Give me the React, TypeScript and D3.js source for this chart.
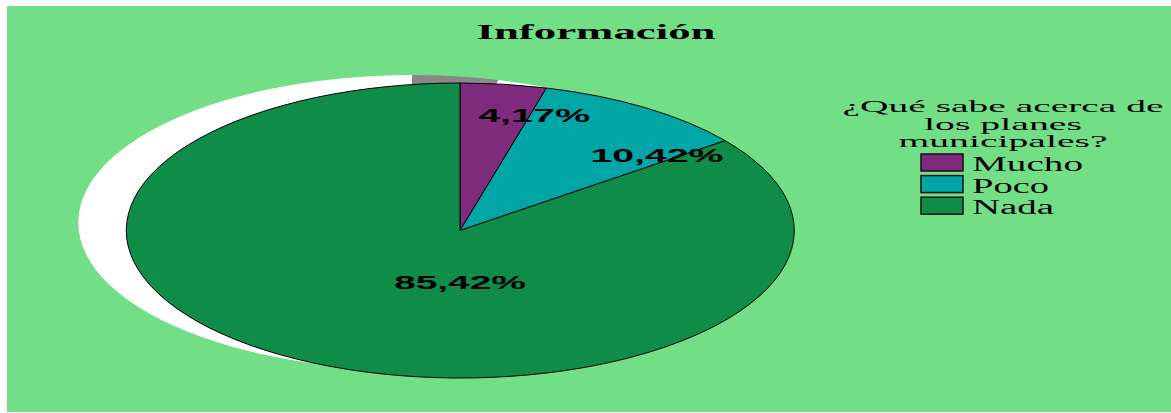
import { useEffect, useRef } from "react"
import * as d3 from "d3"

// datos del gráfico
const categories = ["Mucho", "Poco", "Nada"]
const values = [4.17, 10.42, 85.42]
const valueLabels = ["4,17%", "10,42%", "85,42%"]
const chartTitle = "Información"
const legendTitle = ["¿Qué sabe acerca de", "los planes", "municipales?"]

const colors = ["#7e2a7d", "#00a6a6", "#0e8c48"]
const shadowColors = ["#888888", "#ffffff", "#ffffff"]

// posición relativa de las etiquetas (fracción del radio en x / y)
const labelPlace = [
  { fx: 1.7, fy: 0.742 },
  { fx: 1.061, fy: 0.559 },
  { fx: 0.0, fy: 0.442 },
]
const labelWidths = [112, 133, 132]
const legendTitleWidths = [321, 158, 209]
const legendTextWidths = [111, 77, 82]

export default function App() {
  const svgRef = useRef<SVGSVGElement>(null)

  useEffect(() => {
    if (!svgRef.current) return
    const width = 1171
    const height = 413

    const svg = d3.select(svgRef.current)
    svg.selectAll("*").remove()
    svg.attr("width", width).attr("height", height)

    // fondo
    svg.append("rect")
      .attr("x", 7)
      .attr("y", 6)
      .attr("width", width - 7)
      .attr("height", 406)
      .attr("fill", "#72df87")

    // título
    svg.append("text")
      .text(chartTitle)
      .attr("x", 596)
      .attr("y", 39)
      .attr("text-anchor", "middle")
      .attr("textLength", 239)
      .attr("lengthAdjust", "spacingAndGlyphs")
      .style("font-family", "'Liberation Serif', 'Times New Roman', serif")
      .style("font-weight", "bold")
      .style("font-size", "22px")
      .style("fill", "#000")

    const pie = d3.pie<number>().sort(null).value((d) => d)
    const arcs = pie(values)
    const unitArc = d3.arc<d3.PieArcDatum<number>>().innerRadius(0).outerRadius(1)

    const rx = 334
    const ry = 147.5

    // sombra desplazada
    const shadow = svg.append("g").attr("transform", `translate(412,222.5) scale(${rx},${ry})`)
    shadow.selectAll("path")
      .data(arcs)
      .enter()
      .append("path")
      .attr("d", (d) => unitArc(d) as string)
      .attr("fill", (d, i) => shadowColors[i])

    // pastel
    const cx = 460
    const cy = 230.5
    const g = svg.append("g").attr("transform", `translate(${cx},${cy}) scale(${rx},${ry})`)
    g.selectAll("path")
      .data(arcs)
      .enter()
      .append("path")
      .attr("d", (d) => unitArc(d) as string)
      .attr("fill", (d, i) => colors[i])
      .attr("stroke", "#000")
      .attr("stroke-width", 1)
      .attr("vector-effect", "non-scaling-stroke")

    // etiquetas de valores
    arcs.forEach((d, i) => {
      const mid = (d.startAngle + d.endAngle) / 2
      const x = cx + rx * labelPlace[i].fx * Math.sin(mid)
      const y = cy - ry * labelPlace[i].fy * Math.cos(mid)
      svg.append("text")
        .text(valueLabels[i])
        .attr("x", x)
        .attr("y", y)
        .attr("text-anchor", "middle")
        .attr("textLength", labelWidths[i])
        .attr("lengthAdjust", "spacingAndGlyphs")
        .style("font-family", "'Liberation Sans', Arial, sans-serif")
        .style("font-weight", "bold")
        .style("font-size", "18px")
        .style("fill", "#000")
    })

    // leyenda
    const legend = svg.append("g")
    legendTitle.forEach((line, i) => {
      legend.append("text")
        .text(line)
        .attr("x", 1003)
        .attr("y", 112 + i * 17.5)
        .attr("text-anchor", "middle")
        .attr("textLength", legendTitleWidths[i])
        .attr("lengthAdjust", "spacingAndGlyphs")
        .style("font-family", "'Liberation Serif', 'Times New Roman', serif")
        .style("font-size", "17.5px")
        .style("fill", "#000")
    })

    categories.forEach((c, i) => {
      const y0 = 154 + i * 21.6
      legend.append("rect")
        .attr("x", 921)
        .attr("y", y0)
        .attr("width", 42)
        .attr("height", 17)
        .attr("fill", colors[i])
        .attr("stroke", "#111")
        .attr("stroke-width", 1.5)
      legend.append("text")
        .text(c)
        .attr("x", 972)
        .attr("y", y0 + 17)
        .attr("textLength", legendTextWidths[i])
        .attr("lengthAdjust", "spacingAndGlyphs")
        .style("font-family", "'Liberation Serif', 'Times New Roman', serif")
        .style("font-size", "20px")
        .style("fill", "#000")
    })
  }, [])

  return <svg ref={svgRef} style={{ position: "absolute", left: 0, top: 0, display: "block" }} />
}
